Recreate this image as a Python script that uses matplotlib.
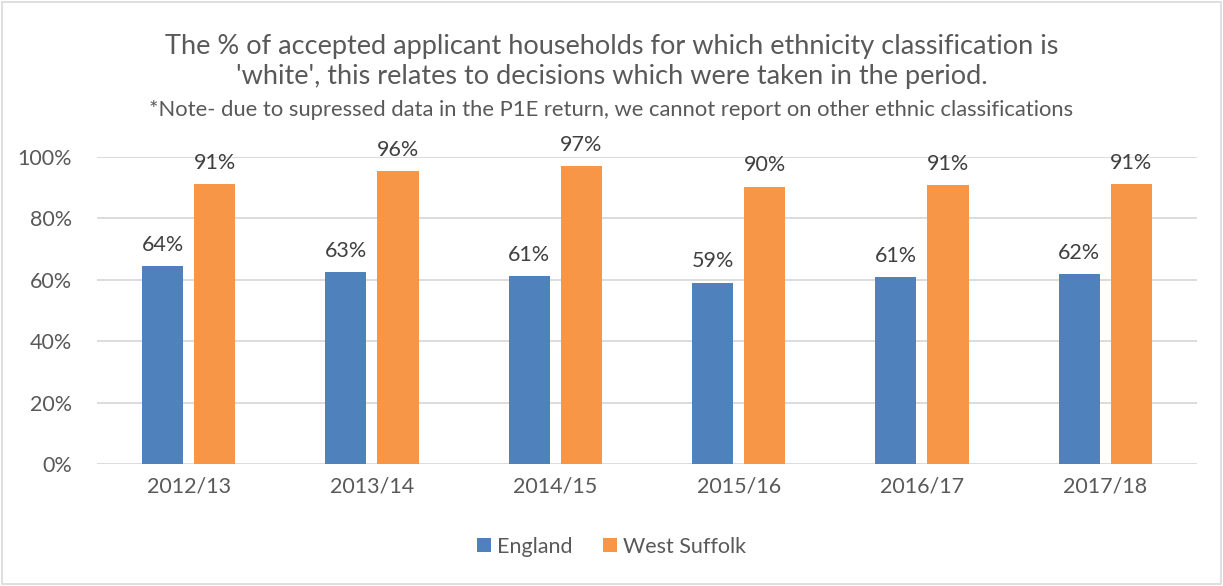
import matplotlib
matplotlib.use("Agg")
import matplotlib.pyplot as plt
from matplotlib.patches import Rectangle
import numpy as np

categories = ["2012/13", "2013/14", "2014/15", "2015/16", "2016/17", "2017/18"]
england = [64.4, 62.6, 61.2, 59.1, 60.9, 61.9]
west_suffolk = [91.1, 95.5, 97.1, 90.4, 90.9, 91.3]
series_names = ["England", "West Suffolk"]

plt.rcParams['font.family'] = ['Lato', 'DejaVu Sans']
txt = '#595959'
blue = '#4F81BD'
orange = '#F79646'

fig = plt.figure(figsize=(12.23, 5.86), dpi=100)
ax = fig.add_axes([0.0793, 0.2082, 0.8994, 0.5238])

x = np.arange(len(categories))
w = 0.224
off = 0.142
b1 = ax.bar(x - off, england, w, color=blue, label=series_names[0], zorder=3)
b2 = ax.bar(x + off, west_suffolk, w, color=orange, label=series_names[1], zorder=3)

for bars, vals in ((b1, england), (b2, west_suffolk)):
    for r, v in zip(bars, vals):
        ax.annotate(f"{round(v):.0f}%", (r.get_x() + r.get_width() / 2, v),
                    xytext=(0, 8), textcoords='offset points', ha='center', va='bottom',
                    fontsize=15.5, color='#404040')

ax.set_xlim(-0.5, len(categories) - 0.5)
ax.set_ylim(0, 100)
ax.set_yticks([0, 20, 40, 60, 80, 100])
ax.set_yticklabels([f"{t}%" for t in [0, 20, 40, 60, 80, 100]])
ax.set_xticks(x)
ax.set_xticklabels(categories)
ax.tick_params(axis='both', length=0, labelsize=15.5, labelcolor=txt)
ax.tick_params(axis='y', pad=18)
ax.tick_params(axis='x', pad=9)
ax.grid(axis='y', color='#D9D9D9', linewidth=1.3, zorder=0)
for s in ax.spines.values():
    s.set_visible(False)

fig.text(0.5, 0.895, "The % of accepted applicant households for which ethnicity classification is\n'white', this relates to decisions which were taken in the period.",
         ha='center', va='center', fontsize=19.5, color=txt, linespacing=1.22)
fig.text(0.5, 0.812, "*Note- due to supressed data in the P1E return, we cannot report on other ethnic classifications",
         ha='center', va='center', fontsize=15.8, color=txt)

leg = fig.legend(handles=[b1, b2], labels=series_names, loc='center', bbox_to_anchor=(0.5, 0.067),
                 ncol=2, frameon=False, fontsize=15.5, handlelength=0.65, handleheight=0.65,
                 columnspacing=1.4, handletextpad=0.3)
for t in leg.get_texts():
    t.set_color(txt)

fig.patches.append(Rectangle((0.002, 0.004), 0.996, 0.992, transform=fig.transFigure,
                             fill=False, edgecolor='#D9D9D9', linewidth=1.2))

fig.savefig("out.png", dpi=100)
